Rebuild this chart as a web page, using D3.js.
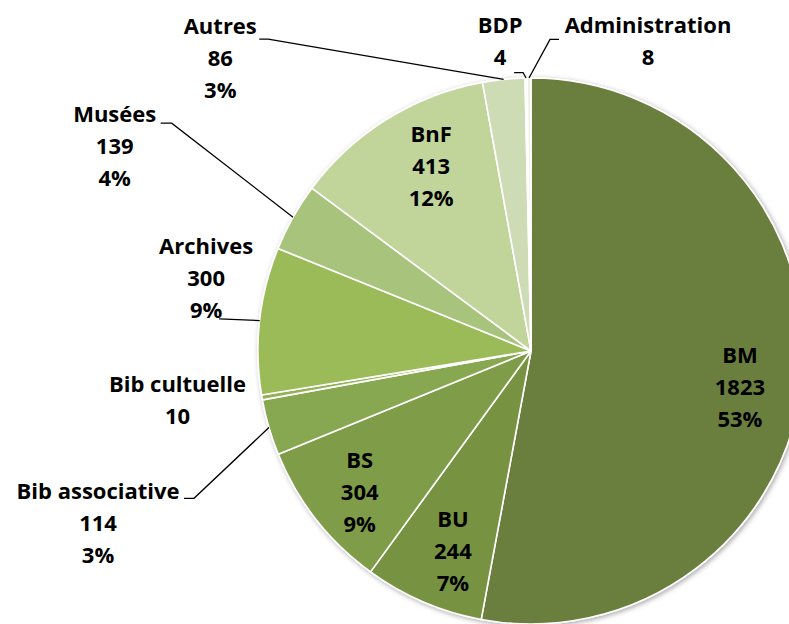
<!DOCTYPE html>
<html>
<head>
<meta charset="utf-8">
<script src="https://cdn.jsdelivr.net/npm/d3@7"></script>
<style>
  body { margin: 0; background: #fff; }
  text { font-family: "Open Sans", "Noto Sans", sans-serif; font-weight: bold; fill: #000; }
</style>
</head>
<body>
<script>
// data, clockwise from 12 o'clock
var categories = ["BM", "BU", "BS", "Bib associative", "Bib cultuelle", "Archives", "Musées", "BnF", "Autres", "BDP", "Administration"];
var values = [1823, 244, 304, 114, 10, 300, 139, 413, 86, 4, 8];
var percentLabels = ["53%", "7%", "9%", "3%", "", "9%", "4%", "12%", "3%", "", ""];
var colors = ["#6b7f3c", "#77923f", "#7f9d4a", "#88a751", "#93b356", "#9bbb59", "#a7c37c", "#c1d59b", "#cedcb5", "#e3ecd6", "#edf2e5"];

// label placement (polar: degrees clockwise from top, distance from centre)
var labelAngle = [99.8, 201.3, 230.5, 248.3, 262.0, 282.7, 296.2, 331.6, 313.3, 354.3, 20.7];
var labelDist = [212, 215, 222, 466, 357, 333, 464, 210, 427, 311, 331];
// leader start relative to label centre, and horizontal stub length
var leaders = {
  "Bib associative": [86, -25, 10],
  "Archives": [13, 41, 0],
  "Musées": [46, -23, 11],
  "Autres": [39, -19, 9],
  "BDP": [14, 31, 9],
  "Administration": [-89, -2, -9]
};

var width = 789, height = 624;
var cx = 531, cy = 351, R = 273, lineH = 32;

var svg = d3.select("body").append("svg")
  .attr("width", width)
  .attr("height", height);

var defs = svg.append("defs");
var f = defs.append("filter").attr("id", "shadow")
  .attr("x", "-10%").attr("y", "-10%").attr("width", "120%").attr("height", "120%");
f.append("feDropShadow")
  .attr("dx", 1.5).attr("dy", 1.5).attr("stdDeviation", 2.5)
  .attr("flood-color", "#000").attr("flood-opacity", 0.35);

var pie = d3.pie().sort(null).value(function(d) { return d; });
var arcs = pie(values);
var arc = d3.arc().innerRadius(0).outerRadius(R);

var g = svg.append("g").attr("transform", "translate(" + cx + "," + cy + ")");

g.append("g").attr("filter", "url(#shadow)")
  .selectAll("path")
  .data(arcs)
  .enter().append("path")
  .attr("d", arc)
  .attr("fill", function(d, i) { return colors[i]; })
  .attr("stroke", "#fff")
  .attr("stroke-width", 1.6)
  .attr("stroke-linejoin", "round");

function polar(deg, r) {
  var a = deg * Math.PI / 180;
  return [r * Math.sin(a), -r * Math.cos(a)];
}

// leader lines
arcs.forEach(function(d, i) {
  var lead = leaders[categories[i]];
  if (!lead) return;
  var mid = (d.startAngle + d.endAngle) / 2;
  var edge = [R * Math.sin(mid), -R * Math.cos(mid)];
  var c = polar(labelAngle[i], labelDist[i]);
  var p0 = [c[0] + lead[0], c[1] + lead[1]];
  var p1 = [p0[0] + lead[2], p0[1]];
  g.append("polyline")
    .attr("points", [p0, p1, edge].map(function(p) { return p.join(","); }).join(" "))
    .attr("fill", "none")
    .attr("stroke", "#000")
    .attr("stroke-width", 1.3);
});

// labels
arcs.forEach(function(d, i) {
  var lines = [categories[i], String(values[i])];
  if (percentLabels[i]) lines.push(percentLabels[i]);
  var c = polar(labelAngle[i], labelDist[i]);
  var t = g.append("text")
    .attr("text-anchor", "middle")
    .attr("font-size", "22px");
  lines.forEach(function(s, k) {
    t.append("tspan")
      .attr("x", c[0])
      .attr("y", c[1] + (k - (lines.length - 1) / 2) * lineH)
      .attr("dy", "0.35em")
      .text(s);
  });
});
</script>
</body>
</html>
